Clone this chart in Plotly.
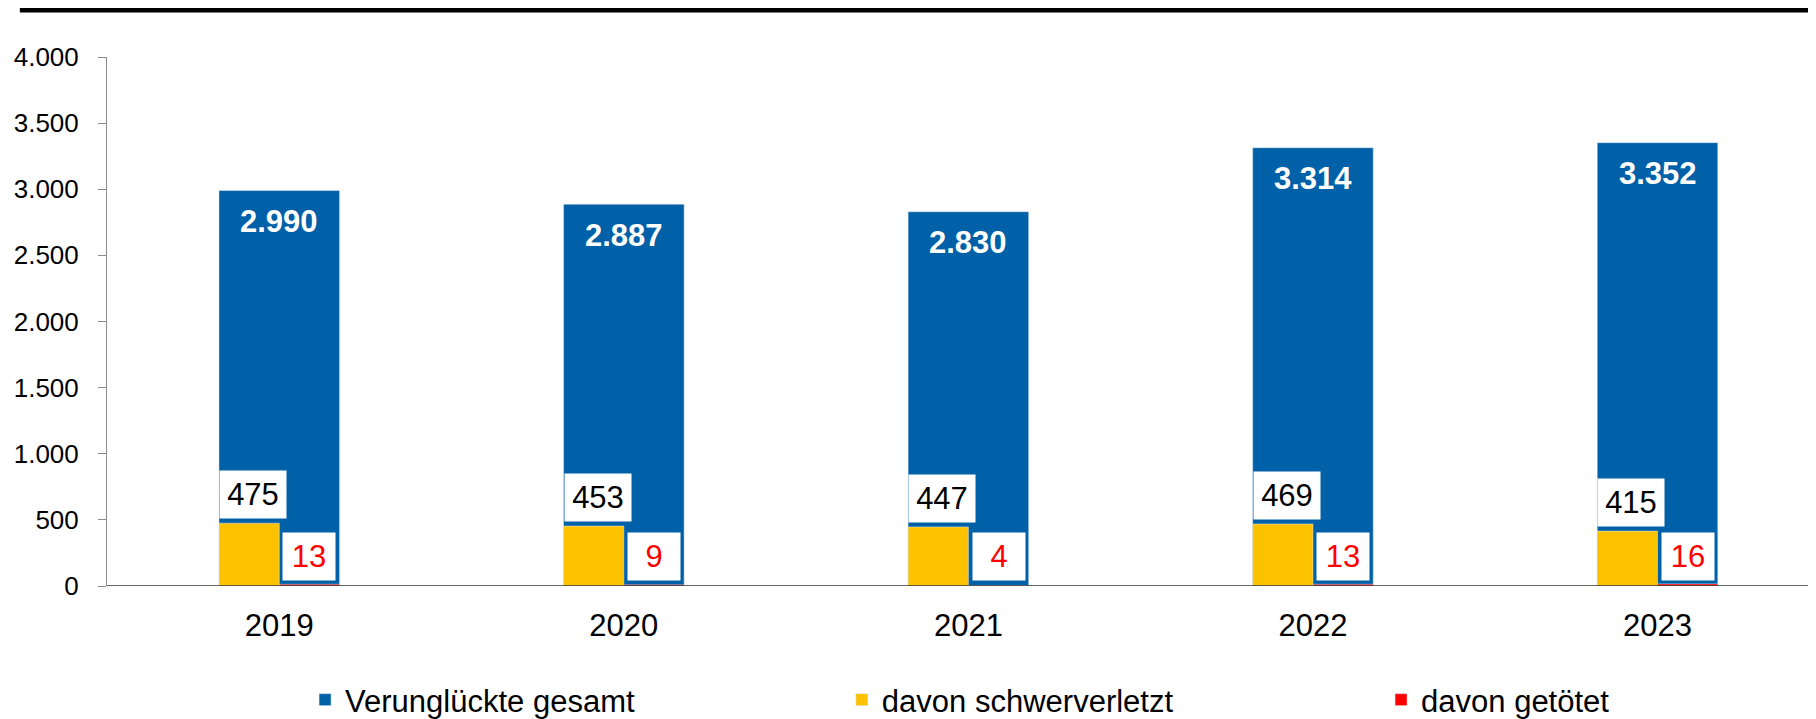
import plotly.graph_objects as go

# data
years = ["2019", "2020", "2021", "2022", "2023"]
gesamt = [2990, 2887, 2830, 3314, 3352]
schwer = [475, 453, 447, 469, 415]
getoetet = [13, 9, 4, 13, 16]

BLUE = "#0060A8"
YELLOW = "#FCC200"
RED = "#FF0000"
FONT = "Liberation Sans, Arial, sans-serif"

W = 0.35  # width of the total bar (category units)

fig = go.Figure()
fig.add_trace(go.Bar(x=years, y=gesamt, name="Verunglückte gesamt", legend="legend",
                     marker=dict(color=BLUE), width=W, offset=-W / 2))
fig.add_trace(go.Bar(x=years, y=schwer, name="davon schwerverletzt", legend="legend2",
                     marker=dict(color=YELLOW), width=W / 2, offset=-W / 2))
fig.add_trace(go.Bar(x=years, y=getoetet, name="davon getötet", legend="legend3",
                     marker=dict(color=RED), width=W / 2, offset=0))

annotations = []
for i, yr in enumerate(years):
    # total, white bold inside top of blue bar
    annotations.append(dict(
        x=i, y=gesamt[i], xref="x", yref="y", text=f"{gesamt[i]:,}".replace(",", "."),
        showarrow=False, yanchor="middle", yshift=-31,
        font=dict(family=FONT, size=31, color="white", weight="bold"),
    ))
    # schwerverletzt, black on white box above yellow bar
    annotations.append(dict(
        x=i - W / 2, y=schwer[i], xref="x", yref="y", text=str(schwer[i]),
        showarrow=False, xanchor="left", yanchor="bottom", yshift=4,
        bgcolor="white", borderpad=6, width=54,
        font=dict(family=FONT, size=31, color="black"),
    ))
    # getötet, red on white box
    annotations.append(dict(
        x=i + W / 4, y=0, xref="x", yref="y", text=str(getoetet[i]),
        showarrow=False, yanchor="middle", yshift=30,
        bgcolor="white", borderpad=6, width=40,
        font=dict(family=FONT, size=31, color=RED),
    ))

leg = dict(orientation="h", y=-0.2155, xanchor="left", yanchor="middle",
           font=dict(family=FONT, size=31, color="black"), bgcolor="rgba(0,0,0,0)")

# page body has an 8px margin, so the figure is 8px smaller each way
fig.update_layout(
    barmode="overlay",
    width=1808,
    height=711,
    margin=dict(l=99, r=0, t=49, b=133, autoexpand=False),
    plot_bgcolor="white",
    paper_bgcolor="white",
    separators=",.",
    font=dict(family=FONT, size=26, color="black"),
    showlegend=True,
    legend=dict(leg, x=0.1159),
    legend2=dict(leg, x=0.4300),
    legend3=dict(leg, x=0.7455),
    xaxis=dict(
        type="category", range=[-0.5, 4.46], showgrid=False,
        showline=False, ticks="", ticklabelstandoff=18,
        tickfont=dict(family=FONT, size=31, color="black"),
        zeroline=False, automargin=False,
    ),
    yaxis=dict(
        range=[0, 4000], dtick=500, tickformat=",d", showgrid=False,
        showline=True, linecolor="#8c8c8c", linewidth=1,
        ticks="outside", ticklen=8, tickcolor="#8c8c8c",
        ticklabelstandoff=14, zeroline=False, automargin=False,
        tickfont=dict(family=FONT, size=26, color="black"),
    ),
    annotations=annotations,
    shapes=[
        # thick rule along the top
        dict(type="line", xref="paper", yref="paper",
             x0=-0.051, x1=1.0, y0=1.089, y1=1.089,
             line=dict(color="black", width=5)),
        # baseline
        dict(type="line", xref="paper", yref="y",
             x0=0, x1=1, y0=0, y1=0,
             line=dict(color="#333333", width=1.5), layer="above"),
    ],
)

fig.write_html("out.html")
